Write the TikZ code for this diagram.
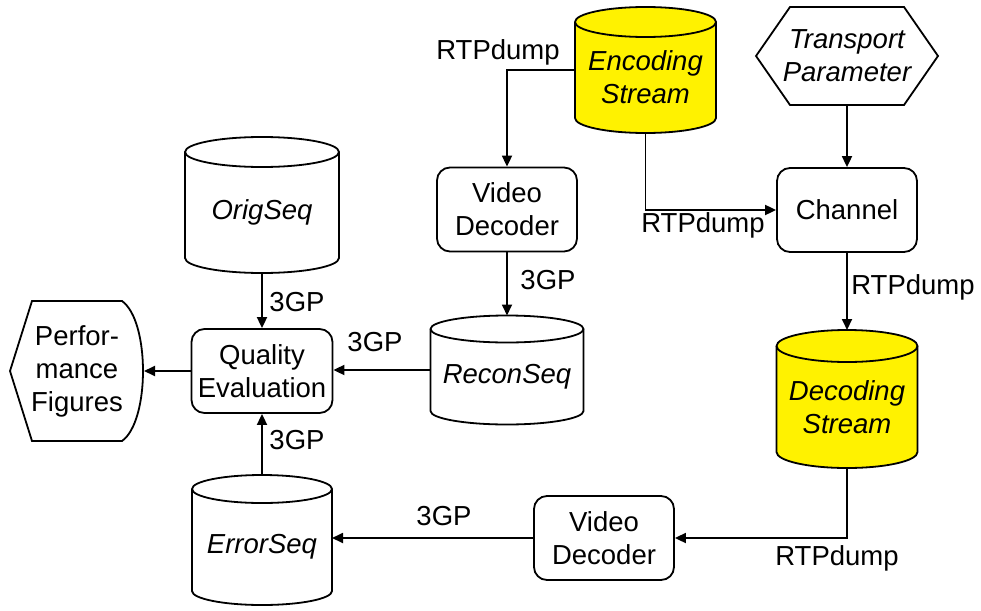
\documentclass[tikz,border=0pt]{standalone}
\usepackage{fontspec}
\setmainfont{Liberation Sans}
\usetikzlibrary{arrows.meta,calc}

\newcommand\mainsize{\fontsize{27.5}{33}\selectfont}

% storage drum drawn around an empty named node: #1 node, #2 fill, #3 half-height of the ellipses
\newcommand\drawdrum[3]{%
  \path[lw, draw=black, fill=#2] let \p1=(#1.north west), \p2=(#1.south east), \n1={(\x2-\x1)/2} in
    (\x1,\y1-#3) -- (\x1,\y2+#3)
    arc[start angle=180, end angle=360, x radius=\n1, y radius=#3]
    -- (\x2,\y1-#3)
    arc[start angle=0, end angle=180, x radius=\n1, y radius=#3] -- cycle;
  \draw[lw] let \p1=(#1.north west), \p2=(#1.south east), \n1={(\x2-\x1)/2} in
    (\x1,\y1-#3) arc[start angle=180, end angle=360, x radius=\n1, y radius=#3];
}

\tikzset{
  lw/.style={line width=1.8pt},
  arr/.style={lw, -{Triangle[length=11pt,width=10pt]}},
  procbox/.style={draw, lw, rounded corners=13pt, minimum width=140pt, minimum height=84pt,
                  align=center, inner sep=0pt, font=\mainsize},
  slot/.style={inner sep=0pt, outer sep=0pt},
  storetext/.style={align=center, inner sep=0pt, font=\mainsize\itshape},
  lbl/.style={inner sep=0pt, font=\mainsize, align=center},
}

\begin{document}
\begin{tikzpicture}[x=1pt, y=1pt]
\useasboundingbox (0,0) rectangle (981,-610);

% ---- stores ----
\node[slot, minimum width=141pt, minimum height=126pt] (enc) at (645.5,-70) {};
\drawdrum{enc}{yellow}{15pt}
\node[storetext] (enc-t) at ([yshift=-7.5pt]enc.center) {Encoding\\Stream};

\node[slot, minimum width=154pt, minimum height=136pt] (orig) at (262,-205) {};
\drawdrum{orig}{white}{15pt}
\node[storetext] (orig-t) at ([yshift=-7.5pt]orig.center) {OrigSeq};

\node[slot, minimum width=153pt, minimum height=109pt] (recon) at (507,-370) {};
\drawdrum{recon}{white}{13.5pt}
\node[storetext] (recon-t) at ([yshift=-6.75pt]recon.center) {ReconSeq};

\node[slot, minimum width=141pt, minimum height=138pt] (dec) at (847,-399) {};
\drawdrum{dec}{yellow}{16pt}
\node[storetext] (dec-t) at ([yshift=-8pt]dec.center) {Decoding\\Stream};

\node[slot, minimum width=140pt, minimum height=130pt] (err) at (262,-540) {};
\drawdrum{err}{white}{14pt}
\node[storetext] (err-t) at ([yshift=-7pt]err.center) {ErrorSeq};

% ---- transport parameter (hexagon) ----
\node[slot, minimum width=182pt, minimum height=98pt] (tp) at (847,-56) {};
\draw[lw] (tp.west) -- ([xshift=34pt]tp.north west) -- ([xshift=-34pt]tp.north east)
  -- (tp.east) -- ([xshift=-34pt]tp.south east) -- ([xshift=34pt]tp.south west) -- cycle;
\node[storetext] (tp-t) at (tp.center) {Transport\\Parameter};

% ---- performance figures (display shape) ----
\node[slot, minimum width=134pt, minimum height=140pt] (pf) at (77,-371) {};
\draw[lw] (pf.west) -- ([xshift=22pt]pf.north west) -- ([xshift=-22pt]pf.north east)
  .. controls ([xshift=6pt,yshift=-20pt]pf.north east) and ([xshift=6pt,yshift=20pt]pf.south east)
  .. ([xshift=-22pt]pf.south east) -- ([xshift=22pt]pf.south west) -- cycle;
\node[lbl] (pf-t) at (pf.center) {Perfor-\\mance\\Figures};

% ---- processes ----
\node[procbox] (vd1) at (507,-209.5) {Video\\Decoder};
\node[procbox] (ch)  at (847,-210) {Channel};
\node[procbox, minimum width=141pt] (qe) at (262,-371) {Quality\\Evaluation};
\node[procbox] (vd2) at (604,-538) {Video\\Decoder};

% ---- connectors ----
\draw[arr] (enc.west) -| (vd1.north);
\draw[arr] (enc.south) |- (ch.west);
\draw[arr] (tp.south) -- (ch.north);
\draw[arr] (ch.south) -- (dec.north);
\draw[arr] (dec.south) |- (vd2.east);
\draw[arr] (vd2.west) -- (vd2.west -| err.east);
\draw[arr] (vd1.south) -- (recon.north);
\draw[arr] (recon.west) -- (recon.west -| qe.east);
\draw[arr] (orig.south) -- (qe.north);
\draw[arr] (err.north) -- (qe.south);
\draw[arr] (qe.west) -- (qe.west -| pf.east);

% ---- connector labels ----
\node[lbl] (l-rtp1) at (498,-52) {RTPdump};
\node[lbl] (l-rtp2) at (703,-225) {RTPdump};
\node[lbl] (l-rtp3) at (913,-287) {RTPdump};
\node[lbl] (l-rtp4) at (837,-558) {RTPdump};
\node[lbl] (l-3gp1) at (548,-280) {3GP};
\node[lbl] (l-3gp2) at (375,-342) {3GP};
\node[lbl] (l-3gp3) at (297,-302) {3GP};
\node[lbl] (l-3gp4) at (297,-440) {3GP};
\node[lbl] (l-3gp5) at (444,-516) {3GP};
\end{tikzpicture}
\end{document}
